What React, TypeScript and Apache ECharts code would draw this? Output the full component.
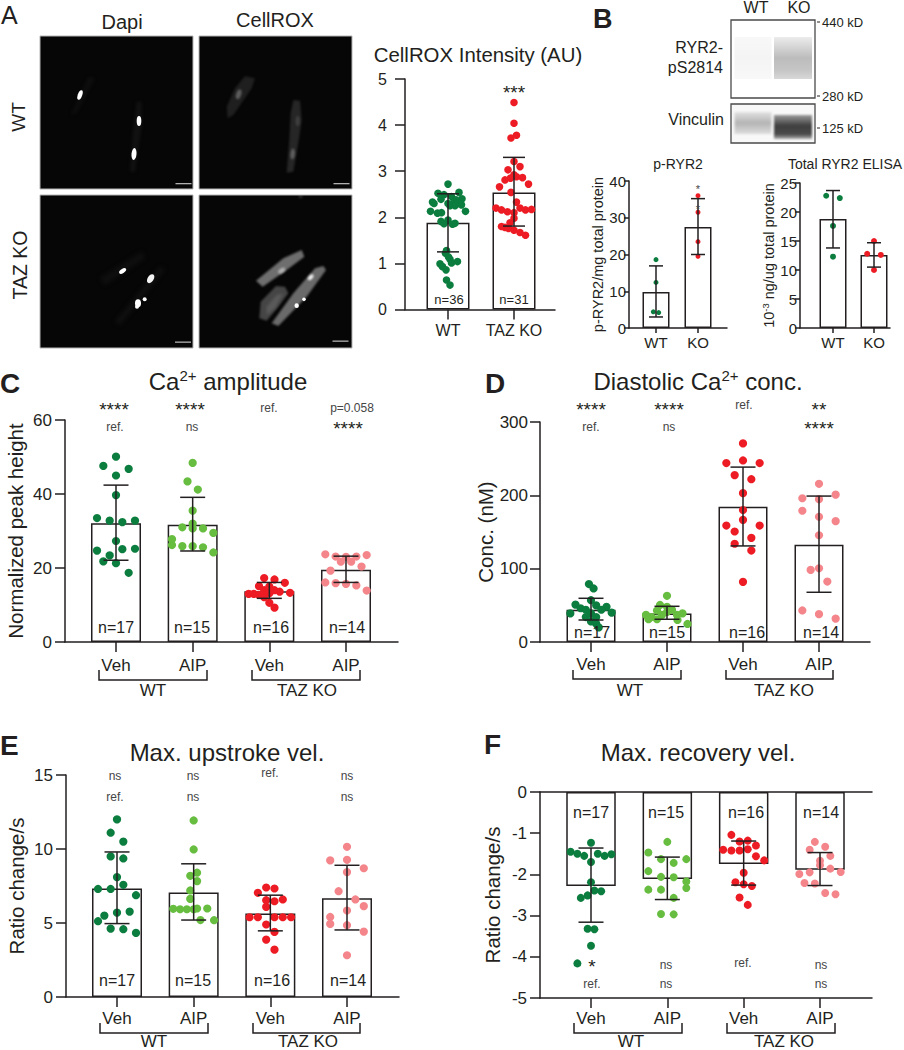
import React, { useEffect, useRef } from "react";
import * as echarts from "echarts";

const F = '"Liberation Sans", Arial, sans-serif';
const INK = "#231f20";
const SOFT = "#454545";
const GREEN = "#0b7d3e";
const LIME = "#67bd3f";
const RED = "#ed1c24";
const PINK = "#f4858b";

// ---------- Panel A: CellROX
const aCats = ["WT", "TAZ KO"];
const aMeans = [1.88, 2.54];
const aLows = [1.25, 1.81];
const aHighs = [2.51, 3.3];
const aWt = [2.72, 2.52, 2.54, 2.49, 2.45, 2.39, 2.4, 2.3, 2.33, 2.38, 2.3, 2.3, 2.3, 2.27, 2.25, 2.25, 2.13, 2.13, 2.09, 2.1, 1.91, 1.94, 1.86, 1.85, 1.87, 1.22, 1.28, 1.14, 1.09, 1.04, 1.01, 0.99, 0.93, 0.86, 0.64, 0.53];
const aWtSlots = [0, -2, 2.2, -0.8, 0.7, -1.4, 2.8, -2.8, -3.1, 1.6, 0, 0.9, 1.9, 2.7, 0.4, 1.4, -3.5, 3.5, -2.1, -1.3, -1.4, 0, -0.8, 0.9, 1.4, -0.5, -0.3, 0.1, 0.4, 1.9, 0.7, -1.6, -1.1, -0.4, -0.3, 0.4];
const aKo = [4.49, 4.04, 3.78, 3.72, 3.21, 3.1, 3.03, 2.92, 2.88, 2.85, 2.81, 2.86, 2.72, 2.66, 2.54, 2.33, 2.2, 2.2, 2.16, 2.12, 2.1, 2.16, 2.17, 1.98, 1.88, 1.78, 1.8, 1.76, 1.72, 1.67, 1.61];
const aKoSlots = [0, 0, 0.5, -0.6, 0, 1.2, -1.2, 0, 0.5, -0.7, -1.8, 1.7, 2.9, -2.9, -0.6, 0.5, 1.2, -3.6, -2.5, -1.3, 0, 2.3, 3.5, 0, -0.8, -1.8, -2.5, -1.1, 0, 1.2, 2.3];

// ---------- Panel B
const bCats = ["WT", "KO"];
const pMeans = [9.8, 27.5];
const pLows = [3, 20];
const pHighs = [16.9, 35.2];
const pWt = [18.6, 12.4, 4.4, 4.2];
const pWtSlots = [0, 0, -1, 1];
const pKo = [36, 31.5, 23.5, 19.5];
const pKoSlots = [0, 0, 0, 0];
const tMeans = [18.8, 12.6];
const tLows = [13.8, 10.5];
const tHighs = [23.7, 14.7];
const tWt = [22.8, 22.4, 17.6, 12.3];
const tWtSlots = [-1, 1, 0, 0];
const tKo = [15, 12.8, 12.6, 10];
const tKoSlots = [0, -1, 1, 0];

// ---------- Panels C-F share these
const cats4 = ["Veh", "AIP", "Veh", "AIP"];

const cMeans = [32.1, 31.7, 13.7, 19.5];
const cLows = [22.1, 24.6, 11.8, 16.1];
const cHighs = [42.4, 39.1, 16.1, 23.2];
const c1 = [50.1, 47.6, 46.8, 45, 39.7, 33.5, 32.8, 32.4, 32.8, 27.3, 24.7, 25.1, 25.2, 23.4, 21.8, 21.3, 18.7];
const c1Slots = [0, -2, 2, 0, 0, -3, -1, 1, 3, 0, -3, 1, 3, -1, -2, 0, 2];
const c2 = [48.4, 43.4, 41.2, 35.5, 31, 32, 30.7, 30.7, 29.5, 27.8, 26.2, 25.9, 25.9, 25.6, 24.2];
const c2Slots = [0, -1, 1, 0, -2, 0, 0, 2, 4, -4, -4, -2, 0, 2, 4];
const c3 = [17.3, 16.9, 16, 15.1, 15, 14, 14, 13.6, 13.3, 13, 13, 12.7, 13.2, 12.1, 10.6, 9.3];
const c3Slots = [-1, 1, 3, -2, 0, 1, -1, 2, 4, -4, -3, -2, 0, -1, 0, 1];
const c4 = [23.7, 23.1, 21.7, 21.7, 23.1, 23.5, 19.3, 20.4, 16.1, 15.9, 15.7, 15.3, 13.9, 23];
const c4Slots = [-4, -2, -1, 1, 2, 4, -3, 3, -4, -2, 0, 2, 4, 0];

const dMeans = [44, 39, 184.4, 132.5];
const dLows = [30, 31, 131, 67.8];
const dHighs = [59.6, 48.7, 238.5, 199];
const d1 = [79, 73, 57, 51, 46, 39, 44, 50, 48, 44, 40, 39, 34, 34, 28, 25, 20];
const d1Slots = [-0.4, 0.5, 0, -3, -2, -4, -1, 1, 3, 2, 4, 0, -1, 1, 0, 1, 1.5];
const d2 = [63, 50.5, 43, 37, 34, 31, 31, 37, 41, 44, 37, 39, 30, 24.6, 48];
const d2Slots = [0, -1.4, -2, -4.2, -3.1, -3.7, -2, -1, 0, 1, 2, 3.1, 2.1, 4.1, 0];
const d3 = [270.8, 244, 247.6, 244, 227.6, 222, 203, 180, 166.6, 158.8, 158.8, 150.7, 142, 134, 124.7, 82];
const d3Slots = [0, -2, 0, 2, -1, 1, 0, 0, 0, -2, 2, -1, 1, -1, 1, 0];
const d4 = [215.7, 196, 194.8, 201, 179, 170.7, 164.8, 145.6, 98.3, 100.6, 82.4, 43, 38, 31.9];
const d4Slots = [0, -2, 0, 2, -2, 0, 2, 0, -1, 0, 1, -2, 0, 2];

const eMeans = [7.33, 7.06, 5.64, 6.68];
const eLows = [4.96, 5.2, 4.47, 4.53];
const eHighs = [9.8, 9, 6.88, 8.9];
const e1 = [12, 11.1, 10.5, 9.5, 9.36, 8.1, 7.58, 7.3, 7.3, 6.88, 5.77, 5.7, 5.5, 5.12, 4.62, 4.58, 4.33];
const e1Slots = [0, -1, 1, -1, 1, 0, 1, -3, -1, 3, 2, 0, -2, -3, -1, 1, 3];
const e2 = [11.93, 9.97, 8.4, 8.19, 7.83, 7.2, 6.63, 5.96, 5.93, 5.93, 5.98, 5.98, 5.93, 5.2, 5.19];
const e2Slots = [0, 0, 1, -1, 1, -1, -1, -6, -4, -2, 1, 4, 0, 2, 6];
const e3 = [7.4, 7.33, 7.04, 6.59, 6.54, 6.47, 6.09, 5.39, 5.39, 5.39, 5.39, 5.39, 4.9, 4.4, 3.88, 3.2];
const e3Slots = [-1, 1, -3, 3, -1, 1, -1, -5, -3, 1, 3, 5, -1, 1, -1, 1];
const e4 = [10.15, 9.23, 9.27, 8.7, 8.44, 7.15, 6.59, 6.14, 5.84, 5.41, 4.94, 4.85, 4.42, 2.82];
const e4Slots = [0, -2, 0, 2, 0, -1, 1, 2, 0, -2, -2, 0, 2, 0];

const fMeans = [-2.28, -2.11, -1.75, -1.885];
const fLows = [-3.16, -2.61, -2.26, -2.27];
const fHighs = [-1.36, -1.58, -1.19, -1.47];
const f1 = [-1.23, -1.45, -1.5, -1.55, -1.5, -1.55, -1.51, -1.7, -2.19, -2.39, -2.41, -2.51, -2.57, -3.32, -3.33, -3.73, -4.16];
const f1Slots = [0, -6, -4, -2, 2, 4, 6, 0, 0, 1, 3, -1, -3, -1, 1, 0, -4];
const f2 = [-1.21, -1.47, -1.63, -1.63, -1.72, -1.92, -2.06, -2.07, -2.17, -2.33, -2.37, -2.37, -2.57, -2.96, -2.97];
const f2Slots = [0, -3, 3, -1, 1, -3, -1, 1, 3, 3, -3, -1, 1, -1, 1];
const f3 = [-1.04, -1.2, -1.18, -1.3, -1.4, -1.42, -1.42, -1.39, -1.56, -1.66, -1.96, -2.19, -2.24, -2.28, -2.56, -2.74];
const f3Slots = [-3, -1, 1, 3, -5, -3, -1, 1, 3, 5, 0, -2, 0, 2, -1, 1];
const f4 = [-1.21, -1.4, -1.33, -1.55, -1.67, -1.78, -1.86, -1.94, -1.99, -1.95, -2.21, -2.22, -2.45, -2.48];
const f4Slots = [-1, -2, 1, 2, 0, 0, 2, 4, -4, -2, -3, -1, 1, 3];

const nLabels4 = ["n=17", "n=15", "n=16", "n=14"];

// ---------- layout of the plots
const plots: any[] = [
  { left: 405, right: 555, top: 79, bottom: 309.5, min: 0, max: 5, interval: 1, tick: 10, centers: [448, 514], cats: aCats, means: aMeans, lows: aLows, highs: aHighs, barW: 43, cap: 22, size: 7.6, font: 16, xFont: 16, yMargin: 18, xMargin: 13,
    groups: [{ v: aWt, s: aWtSlots, step: 5, c: GREEN }, { v: aKo, s: aKoSlots, step: 5, c: RED }] },
  { left: 629, right: 727, top: 181, bottom: 328, min: 0, max: 40, interval: 10, tick: 5, centers: [656, 698], cats: bCats, means: pMeans, lows: pLows, highs: pHighs, barW: 27, cap: 14, size: 5, font: 15, xFont: 15, yMargin: 3, xMargin: 7,
    name: "p-RYR2/mg total protein", nameGap: 24, nameSize: 14.5,
    groups: [{ v: pWt, s: pWtSlots, step: 2.7, c: GREEN }, { v: pKo, s: pKoSlots, step: 2.7, c: RED }] },
  { left: 800, right: 890, top: 183, bottom: 328, min: 0, max: 25, interval: 5, tick: 5, centers: [833, 874], cats: bCats, means: tMeans, lows: tLows, highs: tHighs, barW: 27, cap: 14, size: 6, font: 15, xFont: 15, yMargin: 3, xMargin: 7,
    name: "10{sup|-3} ng/ug total protein", nameGap: 23, nameSize: 14.5,
    groups: [{ v: tWt, s: tWtSlots, step: 6.8, c: GREEN }, { v: tKo, s: tKoSlots, step: 6.8, c: RED }] },
  { left: 65, right: 398, top: 420, bottom: 642, min: 0, max: 60, interval: 20, tick: 10, centers: [116, 193, 270, 346], cats: cats4, means: cMeans, lows: cLows, highs: cHighs, barW: 50, cap: 25, size: 8.2, font: 17, xFont: 17, yMargin: 13, xMargin: 15,
    name: "Normalized peak height", nameGap: 39, nameSize: 20.5,
    groups: [{ v: c1, s: c1Slots, step: 6.33, c: GREEN }, { v: c2, s: c2Slots, step: 5.17, c: LIME }, { v: c3, s: c3Slots, step: 5.17, c: RED }, { v: c4, s: c4Slots, step: 5.17, c: PINK }] },
  { left: 540, right: 870, top: 422, bottom: 642, min: 0, max: 300, interval: 100, tick: 10, centers: [591, 667, 743, 819], cats: cats4, means: dMeans, lows: dLows, highs: dHighs, barW: 49, cap: 25, size: 8.2, font: 17, xFont: 17, yMargin: 12, xMargin: 14,
    name: "Conc. (nM)", nameGap: 42, nameSize: 20.5,
    groups: [{ v: d1, s: d1Slots, step: 5.17, c: GREEN }, { v: d2, s: d2Slots, step: 5, c: LIME }, { v: d3, s: d3Slots, step: 8.33, c: RED }, { v: d4, s: d4Slots, step: 8.33, c: PINK }] },
  { left: 66, right: 399, top: 775, bottom: 997, min: 0, max: 15, interval: 5, tick: 10, centers: [117, 193, 270, 347], cats: cats4, means: eMeans, lows: eLows, highs: eHighs, barW: 50, cap: 25, size: 8.2, font: 17, xFont: 17, yMargin: 13, xMargin: 13,
    name: "Ratio change/s", nameGap: 39, nameSize: 20.5,
    groups: [{ v: e1, s: e1Slots, step: 6.33, c: GREEN }, { v: e2, s: e2Slots, step: 3.4, c: LIME }, { v: e3, s: e3Slots, step: 4.15, c: RED }, { v: e4, s: e4Slots, step: 8.4, c: PINK }] },
  { left: 540, right: 872, top: 792, bottom: 998, min: -5, max: 0, interval: 1, tick: 10, centers: [591, 667, 744, 820], cats: cats4, means: fMeans, lows: fLows, highs: fHighs, barW: 49.5, cap: 25, size: 8, font: 17, xFont: 17, yMargin: 13, xMargin: 12, topLine: true,
    name: "Ratio change/s", nameGap: 37, nameSize: 20.5,
    groups: [{ v: f1, s: f1Slots, step: 3.4, c: GREEN }, { v: f2, s: f2Slots, step: 6.33, c: LIME }, { v: f3, s: f3Slots, step: 4.1, c: RED }, { v: f4, s: f4Slots, step: 5.17, c: PINK }] },
];

const supRich = (size: number) => ({
  sup: { fontFamily: F, fontSize: size, fill: INK, color: INK, padding: [0, 0, size * 0.75, 0] },
});

function T(text: string, x: number, y: number, size: number, o: any = {}) {
  return {
    type: "text",
    x,
    y,
    z: 100,
    silent: true,
    rotation: o.rot || 0,
    scaleX: o.sx || 1,
    style: {
      text,
      fontFamily: F,
      fontSize: size,
      fontWeight: o.w || "normal",
      fill: o.c || INK,
      align: o.a || "center",
      verticalAlign: "middle",
      rich: o.rich,
    },
  };
}

// asterisks sit high in their glyph box, so they are nudged to the wanted centre
const star = (s: string, x: number, y: number, size = 19, c = INK) => T(s, x, y + size * 0.2, size, { c });
const soft = (s: string, x: number, y: number) => T(s, x, y, 12, { c: SOFT });

function bracket(x0: number, x1: number, top: number, bottom: number) {
  return {
    type: "polyline",
    z: 100,
    silent: true,
    shape: { points: [[x0, top], [x0, bottom], [x1, bottom], [x1, top]] },
    style: { stroke: INK, lineWidth: 1.5, fill: "none" },
  };
}

function makeCanvas(w: number, h: number, bg: string) {
  const cv = document.createElement("canvas");
  cv.width = w;
  cv.height = h;
  const ctx = cv.getContext("2d") as CanvasRenderingContext2D;
  ctx.fillStyle = bg;
  ctx.fillRect(0, 0, w, h);
  return { cv, ctx };
}

function poly(ctx: CanvasRenderingContext2D, ox: number, oy: number, pts: number[][], fill: string, blur: number) {
  ctx.filter = `blur(${blur}px)`;
  ctx.fillStyle = fill;
  ctx.beginPath();
  pts.forEach((p, i) => {
    const x = p[0] / 3 - ox;
    const y = p[1] / 3 - oy;
    if (i) ctx.lineTo(x, y);
    else ctx.moveTo(x, y);
  });
  ctx.closePath();
  ctx.fill();
  ctx.filter = "none";
}

function nuc(ctx: CanvasRenderingContext2D, ox: number, oy: number, x: number, y: number, rx: number, ry: number, rot: number, fill: string, blur = 0.6) {
  ctx.filter = `blur(${blur}px)`;
  ctx.fillStyle = fill;
  ctx.beginPath();
  ctx.ellipse(x / 3 - ox, y / 3 - oy, rx, ry, rot, 0, Math.PI * 2);
  ctx.fill();
  ctx.filter = "none";
}

function micro(ox: number, oy: number, draw: (c: CanvasRenderingContext2D) => void) {
  const { cv, ctx } = makeCanvas(153, 153, "#060606");
  draw(ctx);
  return cv.toDataURL();
}

function imagePanels() {
  const dapiWt = micro(40, 36, (c) => {
    poly(c, 40, 36, [[410, 305], [425, 305], [425, 380], [405, 515], [390, 515], [398, 400]], "#111", 1.5);
    poly(c, 40, 36, [[265, 230], [285, 235], [230, 340], [212, 345]], "#0d0d0d", 1.5);
    nuc(c, 40, 36, 240, 285, 2.2, 5, 0.35, "#fff");
    nuc(c, 40, 36, 417, 363, 2.3, 5, 0, "#fff");
    nuc(c, 40, 36, 402, 462, 2.5, 6, 0.08, "#fff");
  });
  const roxWt = micro(199, 36, (c) => {
    poly(c, 199, 36, [[735, 228], [765, 235], [755, 265], [700, 345], [683, 355], [680, 320], [705, 265]], "#1f1f1f", 1.2);
    poly(c, 199, 36, [[880, 300], [900, 302], [905, 360], [898, 410], [880, 515], [860, 518], [868, 420], [872, 340]], "#262626", 1.2);
    nuc(c, 199, 36, 716, 283, 2.5, 5, 0.3, "#5e5e5e", 1.2);
    nuc(c, 199, 36, 893, 363, 2, 5, 0, "#404040", 1.2);
    nuc(c, 199, 36, 878, 462, 2.2, 5.5, 0.08, "#606060", 1.2);
  });
  const dapiKo = micro(40, 195, (c) => {
    poly(c, 40, 195, [[300, 835], [425, 755], [435, 775], [315, 855]], "#0f0f0f", 2);
    poly(c, 40, 195, [[345, 965], [480, 800], [495, 808], [360, 975]], "#101010", 2);
    nuc(c, 40, 195, 368, 813, 4, 2, -0.6, "#fff");
    nuc(c, 40, 195, 452, 836, 5, 3, -1, "#f4f4f4");
    nuc(c, 40, 195, 414, 910, 3, 4, 0, "#fff");
    nuc(c, 40, 195, 434, 898, 2, 2, 0, "#fff");
    nuc(c, 40, 195, 411, 920, 2, 2, 0, "#fff");
  });
  const roxKo = micro(199, 195, (c) => {
    poly(c, 199, 195, [[895, 585], [910, 585], [905, 595], [898, 595]], "#2c2c2c", 1);
    poly(c, 199, 195, [[782, 905], [828, 858], [855, 860], [865, 880], [835, 920], [800, 962], [778, 955]], "#454545", 1);
    poly(c, 199, 195, [[800, 920], [830, 885], [850, 880], [825, 925], [800, 945]], "#5a5a5a", 1.5);
    poly(c, 199, 195, [[768, 842], [850, 775], [905, 750], [913, 770], [860, 810], [788, 860]], "#6e6e6e", 0.8);
    poly(c, 199, 195, [[815, 970], [880, 880], [945, 805], [970, 798], [978, 810], [920, 890], [835, 978]], "#6a6a6a", 0.8);
    nuc(c, 199, 195, 845, 812, 4, 2.2, -0.6, "#b0b0b0", 1);
    nuc(c, 199, 195, 932, 832, 3.5, 2, -0.8, "#f0f0f0", 0.8);
    nuc(c, 199, 195, 890, 917, 2.2, 2.4, 0, "#fff", 0.5);
    nuc(c, 199, 195, 912, 898, 1.8, 1.8, 0, "#fff", 0.5);
  });
  const box = [
    [40, 36, dapiWt, 175.5, 183],
    [199, 36, roxWt, 333.5, 183],
    [40, 195, dapiKo, 175, 341.5],
    [199, 195, roxKo, 332.5, 340.5],
  ] as any[];
  const out: any[] = [];
  box.forEach(([x, y, img, bx, by]) => {
    out.push({ type: "image", x, y, z: 5, silent: true, style: { image: img, x: 0, y: 0, width: 153, height: 153 } });
    out.push({ type: "rect", z: 6, silent: true, shape: { x, y, width: 153, height: 153 }, style: { fill: "none", stroke: "#b4b4b4", lineWidth: 1 } });
    out.push({ type: "rect", z: 7, silent: true, shape: { x: bx, y: by, width: 16, height: 1.3 }, style: { fill: "#b0b0b0" } });
  });
  return out;
}

function blotPanels() {
  const vert = (c: CanvasRenderingContext2D, x: number, y: number, w: number, h: number, stops: [number, string][], blur: number) => {
    const g = c.createLinearGradient(0, y, 0, y + h);
    stops.forEach(([p, col]) => g.addColorStop(p, col));
    c.filter = `blur(${blur}px)`;
    c.fillStyle = g;
    c.fillRect(x, y, w, h);
    c.filter = "none";
  };
  const a = makeCanvas(84, 78, "#ffffff");
  vert(a.ctx, 3.5, 17, 37, 42, [[0, "#f8f8f8"], [0.5, "#f4f4f4"], [1, "#f8f8f8"]], 0.7);
  vert(a.ctx, 43, 17, 38, 42, [[0, "#ececec"], [0.5, "#bcbcbc"], [0.8, "#c6c6c6"], [1, "#d8d8d8"]], 0.7);
  const b = makeCanvas(84, 39, "#f8f8f8");
  vert(b.ctx, 3.5, 8, 37, 22, [[0, "#e2e2e2"], [0.5, "#b4b4b4"], [1, "#dddddd"]], 0.9);
  vert(b.ctx, 43, 11, 38, 24, [[0, "#9a9a9a"], [0.45, "#3f3f3f"], [0.8, "#4a4a4a"], [1, "#b0b0b0"]], 0.9);
  const out: any[] = [];
  [[731, 20, 84, 78, a.cv], [731, 104, 84, 39, b.cv]].forEach(([x, y, w, h, cv]: any) => {
    out.push({ type: "image", x, y, z: 5, silent: true, style: { image: cv.toDataURL(), x: 0, y: 0, width: w, height: h } });
    out.push({ type: "rect", z: 6, silent: true, shape: { x, y, width: w, height: h }, style: { fill: "none", stroke: "#4a4a4a", lineWidth: 1.3 } });
  });
  [22, 96, 128].forEach((y) => {
    out.push({ type: "line", z: 6, silent: true, shape: { x1: 817, y1: y, x2: 820, y2: y }, style: { stroke: INK, lineWidth: 1 } });
  });
  return out;
}

function annotations() {
  const t: any[] = [];
  // panel letters
  t.push(T("A", 1, 15, 25, { a: "left" }));
  t.push(T("B", 593, 19, 27, { a: "left", w: "bold" }));
  t.push(T("C", 0, 383, 28, { a: "left", w: "bold" }));
  t.push(T("D", 485, 383, 28, { a: "left", w: "bold" }));
  t.push(T("E", 0, 745, 28, { a: "left", w: "bold" }));
  t.push(T("F", 484, 744, 28, { a: "left", w: "bold" }));
  // panel A
  t.push(T("Dapi", 122, 22, 20));
  t.push(T("CellROX", 275, 20, 20));
  t.push(T("WT", 18, 117, 19, { rot: Math.PI / 2 }));
  t.push(T("TAZ KO", 20, 265, 19.5, { rot: Math.PI / 2 }));
  t.push(T("CellROX Intensity (AU)", 478, 55, 20.4));
  t.push(star("***", 514, 89));
  t.push(T("n=36", 449, 299, 13));
  t.push(T("n=31", 514, 299, 13));
  // panel B
  t.push(T("WT", 756, 7, 16));
  t.push(T("KO", 799, 7, 16));
  t.push(T("440 kD", 822, 22, 13, { a: "left" }));
  t.push(T("280 kD", 822, 96, 13, { a: "left" }));
  t.push(T("125 kD", 822, 128, 13, { a: "left" }));
  t.push(T("RYR2-", 723, 47, 16, { a: "right" }));
  t.push(T("pS2814", 723, 67, 16, { a: "right" }));
  t.push(T("Vinculin", 724, 119, 16, { a: "right" }));
  t.push(T("p-RYR2", 678, 164, 14));
  t.push(T("Total RYR2 ELISA", 845, 164, 14));
  t.push(star("*", 698, 187, 11, SOFT));
  t.push(star("*", 698, 207, 11, SOFT));
  // panel C
  t.push(T("Ca{sup|2+} amplitude", 228, 381, 24, { rich: supRich(15) }));
  t.push(star("****", 114, 406));
  t.push(star("****", 190, 406));
  t.push(soft("ref.", 269, 408));
  t.push(soft("p=0.058", 352, 408));
  t.push(soft("ref.", 115, 427));
  t.push(soft("ns", 192, 427));
  t.push(star("****", 348, 425));
  [116, 192, 271, 347].forEach((x, i) => t.push(T(nLabels4[i], x, 627, 16)));
  t.push(bracket(99, 207, 670, 680), bracket(252, 360, 670, 680));
  t.push(T("WT", 153, 690, 17), T("TAZ KO", 307, 690, 17));
  // panel D
  t.push(T("Diastolic Ca{sup|2+} conc.", 698, 381, 24, { rich: supRich(15) }));
  t.push(star("****", 591, 406));
  t.push(star("****", 669, 406));
  t.push(soft("ref.", 744, 405));
  t.push(star("**", 819, 406));
  t.push(soft("ref.", 591, 427));
  t.push(soft("ns", 669, 427));
  t.push(star("****", 819, 425));
  [592, 667, 747, 821].forEach((x, i) => t.push(T(nLabels4[i], x, 632, 16)));
  t.push(bracket(573, 681, 670, 679), bracket(726, 833, 670, 679));
  t.push(T("WT", 630, 690, 17), T("TAZ KO", 784, 690, 17));
  // panel E
  t.push(T("Max. upstroke vel.", 227, 752, 24));
  t.push(soft("ns", 115, 776), soft("ns", 193, 776), soft("ref.", 270, 773), soft("ns", 347, 776));
  t.push(soft("ref.", 115, 797), soft("ns", 193, 797), soft("ns", 347, 797));
  [117, 193, 272, 348].forEach((x, i) => t.push(T(nLabels4[i], x, 980, 16)));
  t.push(bracket(100, 208, 1023, 1033), bracket(253, 360, 1023, 1033));
  t.push(T("WT", 154, 1041, 17), T("TAZ KO", 308, 1041, 17));
  // panel F
  t.push(T("Max. recovery vel.", 698, 752, 24));
  t.push(star("*", 592, 963), soft("ns", 666, 965), soft("ref.", 743, 963), soft("ns", 821, 965));
  t.push(soft("ref.", 592, 984), soft("ns", 666, 984), soft("ns", 821, 984));
  [591, 666, 746, 821].forEach((x, i) => t.push(T(nLabels4[i], x, 812, 16)));
  t.push(bracket(574, 682, 1023, 1033), bracket(727, 835, 1023, 1033));
  t.push(T("WT", 631, 1041, 17), T("TAZ KO", 784, 1041, 17));
  return t;
}

function buildOption() {
  const grid: any[] = [];
  const xAxis: any[] = [];
  const yAxis: any[] = [];
  const series: any[] = [];
  plots.forEach((p, gi) => {
    const n = p.centers.length;
    const gap = (p.centers[n - 1] - p.centers[0]) / (n - 1);
    const xMin = 1 - (p.centers[0] - p.left) / gap;
    const xMax = n + (p.right - p.centers[n - 1]) / gap;
    const positions = p.centers.map((_: number, i: number) => i + 1);
    const lineStyle = { color: INK, width: 1.5 };
    grid.push({ left: p.left, top: p.top, width: p.right - p.left, height: p.bottom - p.top, outerBoundsMode: "none", containLabel: false });
    const xIndex = xAxis.length;
    xAxis.push({
      type: "value",
      gridIndex: gi,
      min: xMin,
      max: xMax,
      position: "bottom",
      splitLine: { show: false },
      axisLine: { show: true, onZero: false, lineStyle },
      axisTick: { show: true, length: p.tick, lineStyle, customValues: positions },
      axisLabel: {
        show: true,
        margin: p.xMargin,
        fontFamily: F,
        fontSize: p.xFont,
        color: INK,
        customValues: positions,
        formatter: (v: number) => p.cats[Math.round(v) - 1] || "",
      },
    });
    if (p.topLine) {
      xAxis.push({
        type: "value",
        gridIndex: gi,
        min: xMin,
        max: xMax,
        position: "top",
        splitLine: { show: false },
        axisLine: { show: true, onZero: false, lineStyle },
        axisTick: { show: false },
        axisLabel: { show: false },
      });
    }
    yAxis.push({
      type: "value",
      gridIndex: gi,
      min: p.min,
      max: p.max,
      interval: p.interval,
      splitLine: { show: false },
      axisLine: { show: true, onZero: false, lineStyle },
      axisTick: { show: true, length: p.tick, lineStyle },
      axisLabel: { margin: p.yMargin, fontFamily: F, fontSize: p.font, color: INK },
      name: p.name,
      nameLocation: "middle",
      nameGap: p.nameGap,
      nameTextStyle: { fontFamily: F, fontSize: p.nameSize, color: INK, rich: supRich(p.nameSize * 0.65) },
    });
    series.push({
      type: "bar",
      xAxisIndex: xIndex,
      yAxisIndex: gi,
      barWidth: p.barW,
      z: 2,
      silent: true,
      itemStyle: { color: "#fff", borderColor: INK, borderWidth: 1.5 },
      data: p.means.map((m: number, i: number) => [i + 1, m]),
    });
    p.groups.forEach((g: any, i: number) => {
      series.push({
        type: "scatter",
        xAxisIndex: xIndex,
        yAxisIndex: gi,
        symbolSize: p.size,
        z: 3,
        silent: true,
        itemStyle: { color: g.c, opacity: 1 },
        data: g.v.map((v: number, k: number) => [i + 1 + (g.s[k] * g.step) / gap, v]),
      });
    });
    series.push({
      type: "custom",
      xAxisIndex: xIndex,
      yAxisIndex: gi,
      z: 4,
      silent: true,
      clip: false,
      encode: { x: 0, y: [1, 2] },
      data: p.means.map((_: number, i: number) => [i + 1, p.lows[i], p.highs[i]]),
      renderItem: (_: any, api: any) => {
        const x = api.value(0);
        const lo = api.coord([x, api.value(1)]);
        const hi = api.coord([x, api.value(2)]);
        const st = { stroke: INK, lineWidth: 1.5, fill: "none" };
        const half = p.cap / 2;
        return {
          type: "group",
          children: [
            { type: "line", shape: { x1: lo[0], y1: lo[1], x2: hi[0], y2: hi[1] }, style: st },
            { type: "line", shape: { x1: lo[0] - half, y1: lo[1], x2: lo[0] + half, y2: lo[1] }, style: st },
            { type: "line", shape: { x1: hi[0] - half, y1: hi[1], x2: hi[0] + half, y2: hi[1] }, style: st },
          ],
        };
      },
    });
  });
  return {
    animation: false,
    backgroundColor: "#fff",
    grid,
    xAxis,
    yAxis,
    series,
    graphic: { elements: [...imagePanels(), ...blotPanels(), ...annotations()] },
  };
}

export default function App() {
  const ref = useRef<HTMLDivElement>(null);
  useEffect(() => {
    if (!ref.current) return;
    const chart = echarts.init(ref.current, undefined, { renderer: "svg" });
    chart.setOption(buildOption() as any);
    return () => chart.dispose();
  }, []);
  return <div ref={ref} style={{ position: "absolute", left: 0, top: 0, width: 904, height: 1050 }} />;
}
